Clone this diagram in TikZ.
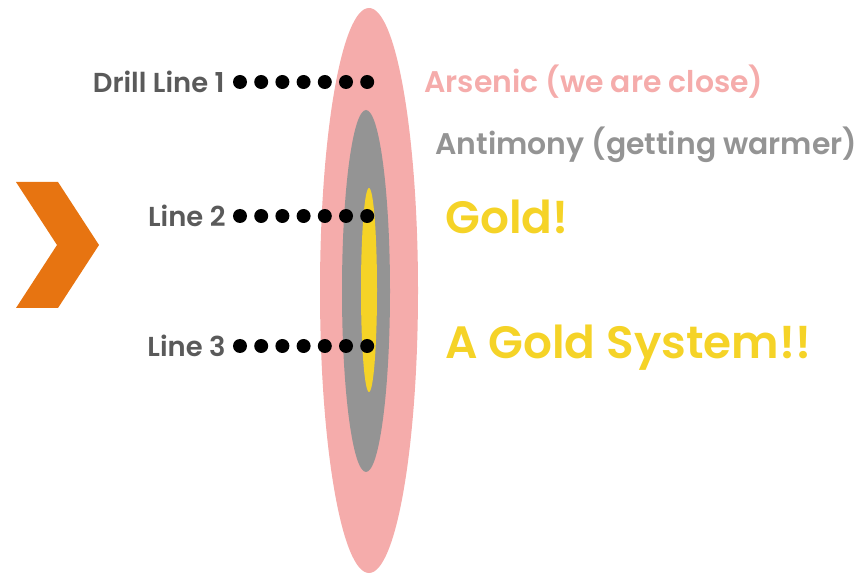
\documentclass[tikz,border=0pt]{standalone}
\usepackage{fontspec}
\setmainfont{Poppins}[BoldFont={Poppins SemiBold}]
\definecolor{pinkring}{HTML}{F5ACAB}
\definecolor{grayring}{HTML}{949494}
\definecolor{goldcore}{HTML}{F5D327}
\definecolor{drilltext}{HTML}{5A5A5A}
\definecolor{chevron}{HTML}{E77411}
\tikzset{
  drilllabel/.style={anchor=east, text=drilltext, font=\bfseries\fontsize{15.6}{18}\selectfont, inner sep=0pt},
  zonelabel/.style={anchor=west, font=\bfseries\fontsize{17}{20}\selectfont, inner sep=0pt},
  goldlabel/.style={anchor=west, text=goldcore, font=\bfseries\fontsize{25.8}{30}\selectfont, inner sep=0pt},
  drilldot/.style={circle, fill=black, minimum size=0.28cm, inner sep=0pt}
}
\begin{document}
\begin{tikzpicture}[x=0.02cm, y=-0.02cm]
	\useasboundingbox (0,0) rectangle (859,577);
	
	% zones
	\fill[pinkring] (369,290.5) ellipse (49 and 282.5);
	\fill[grayring] (366,291) ellipse (24 and 181);
	\fill[goldcore] (369,290) ellipse (8 and 102);
	
	% chevron
	\fill[chevron] (16,182) -- (58,182) -- (99,245) -- (58,308) -- (16,308) -- (57,245) -- cycle;
	
	% drill lines
	\node[drilllabel] (l1) at (225,82) {Drill Line 1};
	\node[drilllabel] (l2) at (226,216) {Line 2};
	\node[drilllabel] (l3) at (226,346) {Line 3};
	\foreach \i in {0,...,6} {
		\node[drilldot] (da\i) at (240+21.2*\i,82) {};
		\node[drilldot] (db\i) at (240+21.2*\i,216) {};
		\node[drilldot] (dc\i) at (240+21.2*\i,346) {};
	}
	
	% labels
	\node[zonelabel, text=pinkring] (arsenic) at (424,82) {Arsenic (we are close)};
	\node[zonelabel, text=grayring] (antimony) at (435,145) {Antimony (getting warmer)};
	\node[goldlabel] (gold) at (445,217) {Gold!};
	\node[goldlabel] (system) at (445,348) {A Gold System!!};
\end{tikzpicture}
\end{document}
